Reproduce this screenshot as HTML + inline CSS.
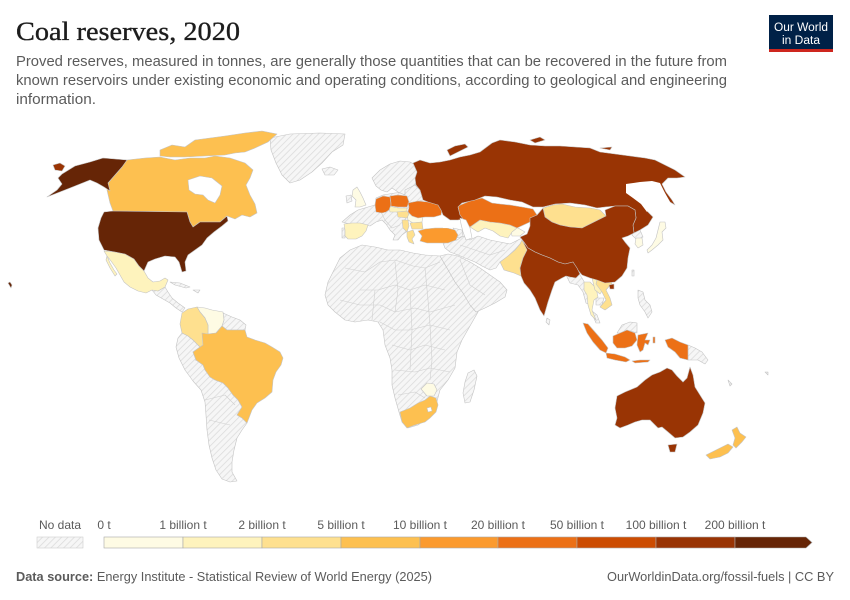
<!DOCTYPE html>
<html><head><meta charset="utf-8"><style>
html,body{margin:0;padding:0;background:#fff;}
svg{display:block;}
text{font-family:"Liberation Sans",sans-serif;}
</style></head><body>
<svg width="850" height="600" viewBox="0 0 850 600" xmlns="http://www.w3.org/2000/svg">
<defs>
<pattern id="h" width="4.5" height="4.5" patternUnits="userSpaceOnUse" patternTransform="rotate(45)">
<rect width="4.5" height="4.5" fill="#f6f6f6"/>
<line x1="0" y1="0" x2="0" y2="4.5" stroke="#dcdcdc" stroke-width="1.6"/>
</pattern>
</defs>
<rect width="850" height="600" fill="#fff"/>
<!-- Title -->
<text x="16" y="40" font-size="26" fill="#1d1d1d" stroke="#1d1d1d" stroke-width="0.35" textLength="224" lengthAdjust="spacingAndGlyphs" style="font-family:'Liberation Serif',serif">Coal reserves, 2020</text>
<g fill="#5b5b5b" font-size="14.5">
<text x="16" y="66" textLength="711" lengthAdjust="spacingAndGlyphs">Proved reserves, measured in tonnes, are generally those quantities that can be recovered in the future from</text>
<text x="16" y="85" textLength="711" lengthAdjust="spacingAndGlyphs">known reservoirs under existing economic and operating conditions, according to geological and engineering</text>
<text x="16" y="104" textLength="80" lengthAdjust="spacingAndGlyphs">information.</text>
</g>
<!-- Logo -->
<rect x="769" y="15" width="64" height="37" fill="#002147"/>
<rect x="769" y="49" width="64" height="3" fill="#ce261e"/>
<text x="801" y="31" fill="#fff" font-size="11.5" text-anchor="middle" textLength="54" lengthAdjust="spacingAndGlyphs">Our World</text>
<text x="801" y="44" fill="#fff" font-size="11.5" text-anchor="middle" textLength="38" lengthAdjust="spacingAndGlyphs">in Data</text>

<!-- MAP -->
<g stroke="#c4c4c4" stroke-width="0.6" stroke-linejoin="round">
<g fill="url(#h)">
<polygon points="270,138 290,134 320,133 345,134 343,145 332,152 322,163 312,172 300,180 290,183 282,175 276,163 271,150"/>
<polygon points="322,169 330,167 338,170 334,175 325,175"/>
<polygon points="152,290 158,291 165,287 168,292 172,298 178,303 185,308 182,312 176,308 170,303 163,299 156,295"/>
<polygon points="170,282 180,283 190,287 186,288 175,285"/>
<polygon points="193,290 200,290 198,293"/>
<polygon points="223,313 232,317 240,320 246,325 245,330 235,330 227,330 222,326 224,320"/>
<polygon points="182,333 188,336 193,340 200,347 193,352 196,360 203,365 205,370 210,377 215,380 223,383 228,388 233,395 238,400 242,407 237,415 242,418 247,423 242,430 237,438 234,450 232,462 232,472 237,481 230,482 222,479 216,470 212,458 209,445 207,430 206,415 205,402 201,390 193,381 185,370 179,358 176,347 178,338"/>
<polygon points="340,258 350,250 362,245 375,247 388,250 400,250 413,253 425,255 440,256 447,268 455,282 463,293 470,302 480,307 478,312 470,326 462,340 457,352 455,368 448,380 440,390 436,405 428,418 418,425 408,428 402,422 399,412 395,398 392,385 392,370 390,358 385,345 383,330 378,322 368,320 355,322 345,320 335,312 328,305 325,295 328,282 334,270"/>
<polygon points="468,373 474,370 477,376 474,390 470,402 465,403 463,393 465,382"/>
<polygon points="440,256 448,254 458,256 470,262 480,268 490,275 500,282 507,290 505,297 495,303 485,308 476,312 470,305 463,293 455,282 447,268"/>
<polygon points="443,243 457,240 463,236 470,240 478,236 490,240 500,242 510,244 518,240 522,238 527,237 520,247 510,255 500,262 496,268 490,270 482,266 475,262 465,258 458,255 450,252 445,248"/>
<polygon points="453,228 462,230 463,236 458,238"/>
<polygon points="342,222 350,215 358,210 368,207 375,205 376,198 383,195 395,193 405,192 413,192 416,198 415,203 410,205 406,210 408,215 405,220 407,226 406,232 402,235 398,240 393,240 395,235 390,230 386,224 382,220 376,222 370,226 360,224 350,224"/>
<polygon points="372,178 380,170 390,164 400,161 410,162 417,166 417,175 415,185 412,192 405,195 398,192 392,188 387,192 381,190 376,186"/>
<polygon points="405,190 415,185 420,190 423,200 416,202 408,205 405,198"/>
<polygon points="346,196 351,195 352,201 347,203"/>
<polygon points="342,228 345,228 345,238 342,238"/>
<polygon points="566,275 572,274 578,272 582,278 586,285 588,295 590,305 586,303 583,292 578,285 570,283"/>
<polygon points="548,257 558,260 565,263 560,265 550,261"/>
<polygon points="547,318 550,320 549,325 546,322"/>
<polygon points="596,298 604,298 602,305 596,305"/>
<polygon points="592,311 597,315 600,323 596,323 593,316"/>
<polygon points="633,225 640,230 643,237 637,240 632,235"/>
<polygon points="632,270 634,270 634,276 632,276"/>
<polygon points="638,290 643,292 645,300 650,305 652,312 648,318 645,312 640,305 638,298"/>
<polygon points="617,333 622,325 630,322 637,323 637,333 627,330 620,333"/>
<polygon points="688,345 695,348 702,352 708,360 705,364 698,360 688,360"/>
<polygon points="728,380 732,384 730,386"/>
<polygon points="765,372 768,372 768,375"/>
</g>
<g fill="none" stroke="#cfcfcf" stroke-width="0.6">
<polyline points="345,268 365,272 380,262 395,260 413,266 425,268 440,262"/>
<polyline points="360,290 378,290 395,285 410,290 425,285 445,290"/>
<polyline points="340,300 360,305 380,305 395,312 415,308 430,312 455,305"/>
<polyline points="380,322 395,330 410,330 430,325 450,330"/>
<polyline points="392,345 410,350 425,345 445,350"/>
<polyline points="395,370 415,372 430,368 450,372"/>
<polyline points="398,395 415,392 425,398"/>
<polyline points="395,262 398,290 395,312"/>
<polyline points="425,268 428,300 430,325 432,360 430,380"/>
<polyline points="410,290 412,330 410,370"/>
<polyline points="375,290 372,320"/>
<polyline points="460,260 470,285 485,295"/>
<polyline points="195,360 215,365 225,380"/>
<polyline points="205,400 225,395 235,405"/>
<polyline points="209,420 230,425"/>
<polyline points="460,245 475,250 490,255 505,250"/>
<polyline points="380,210 385,220 392,228 400,225"/>
</g>

<!-- c0 lightest -->
<g fill="#fefbe4">
<polygon points="197,307 205,308 212,310 223,312 224,320 222,326 216,333 208,334 208,325 205,318 200,312"/>
<polygon points="353,190 357,187 360,192 363,198 366,205 360,207 355,207 356,200 352,196"/>
<polygon points="407,214 418,213 423,216 422,222 413,223 408,220"/>
<polygon points="421,389 427,383 434,384 437,390 434,396 427,396"/>
<polygon points="636,238 642,238 643,245 638,248 635,244"/>
<polygon points="660,222 665,222 666,228 662,232 663,240 658,245 652,250 648,253 647,250 652,245 656,238 658,230"/>
<polygon points="510,226 518,228 525,232 520,236 512,236"/>
</g>
<!-- c1 -->
<g fill="#fef3bd">
<polygon points="104,251 115,252 125,254 134,259 139,266 144,271 148,278 153,282 160,281 165,278 168,280 165,287 158,291 152,290 146,293 138,291 130,287 124,282 120,275 116,268 111,261 107,256"/>
<polygon points="107,256 110,263 114,270 117,274 115,276 110,268 106,260"/>
<polygon points="344,224 352,223 360,223 368,225 366,231 362,236 356,239 348,239 345,236 345,230"/>
<polygon points="389,206 398,208 407,208 407,211 398,212 390,212"/>
<polygon points="470,227 480,220 490,222 500,223 510,225 517,228 512,232 508,238 500,236 493,231 485,228 478,232"/>
<polygon points="584,282 590,282 596,288 598,297 594,300 592,310 596,320 591,315 588,305 587,295 584,290"/>
<polygon points="592,278 600,278 604,288 600,294 595,290"/>
</g>
<!-- c2 -->
<g fill="#fee08f">
<polygon points="182,313 188,309 197,307 200,312 205,318 208,325 208,335 203,345 200,347 193,340 188,336 182,333 180,324"/>
<polygon points="397,212 407,211 409,214 407,218 398,217"/>
<polygon points="402,220 408,220 409,226 407,232 403,228"/>
<polygon points="410,223 422,222 423,229 412,229"/>
<polygon points="407,232 413,230 415,235 412,239 414,244 409,242 407,237"/>
<polygon points="543,208 553,205 562,204 575,207 590,208 600,210 606,216 598,220 590,224 582,228 570,227 560,225 552,222 545,217"/>
<polygon points="500,262 508,256 515,250 520,244 522,240 527,237 532,242 528,248 523,258 520,268 521,276 514,273 504,270"/>
<polygon points="598,276 606,276 612,283 606,290 610,298 612,305 605,310 600,307 606,300 602,292 596,284"/>
</g>
<!-- c3 -->
<g fill="#fdc050">
<polygon points="160,150 172,145 185,147 195,140 210,138 225,136 245,133 262,131 277,134 268,142 255,148 245,152 235,153 225,155 205,156 185,157 170,157 160,156"/>
<polygon points="127,160 145,158 160,157 175,160 190,158 205,158 215,156 230,158 245,163 253,170 250,178 246,185 250,195 255,204 257,213 250,217 242,215 235,219 227,216 220,222 210,222 200,222 193,227 190,222 187,212 113,211 110,203 107,190 108,183 115,175 122,167"/>
<polygon points="202,333 208,334 216,333 222,326 227,330 235,330 245,330 247,337 255,340 265,343 272,347 280,352 283,358 281,365 276,372 273,380 272,392 265,398 257,403 252,410 247,423 242,418 237,415 242,407 238,400 233,395 228,388 223,383 215,380 210,377 205,370 203,365 196,360 193,352 200,347 203,345"/>
<polygon points="400,412 410,408 418,403 425,400 430,396 436,398 438,405 436,412 430,418 425,422 415,425 407,428 402,422"/>
<polygon points="732,430 737,427 740,433 746,437 742,442 736,448 733,445 735,438"/>
<polygon points="706,455 712,452 720,448 728,444 733,447 728,453 720,457 710,459"/>
</g>
<polygon points="188,180 200,176 212,178 222,186 220,195 215,203 208,200 203,195 195,194 189,190" fill="#fff"/>
<polygon points="427,408 431,407 432,411 428,412" fill="#fff"/>
<!-- c4 -->
<g fill="#fb9a2e">
<polygon points="418,231 425,229 435,228 447,228 455,230 458,235 456,240 448,243 437,243 427,243 420,241 422,236"/>
</g>
<!-- c5 -->
<g fill="#ec7016">
<polygon points="376,199 383,196 390,197 391,205 389,210 386,212 382,213 376,212 375,205"/>
<polygon points="390,196 398,195 407,196 409,202 407,207 398,207 391,206 391,203"/>
<polygon points="408,203 418,201 428,202 438,204 442,210 441,215 434,217 425,217 418,218 412,216 408,212 409,207"/>
<polygon points="458,206 470,201 482,198 492,203 500,204 510,205 522,207 533,209 537,215 530,222 517,228 510,225 500,223 490,222 480,220 470,227 463,223 460,217"/>
<polygon points="583,323 588,324 595,332 602,340 608,348 606,353 600,350 593,342 587,333"/>
<polygon points="606,353 615,354 625,357 630,360 626,362 615,360 607,358"/>
<polygon points="613,336 620,333 627,330 635,333 637,340 632,346 625,348 617,348 613,343"/>
<polygon points="638,335 648,333 645,340 650,340 648,345 645,343 643,350 640,352 637,345"/>
<polygon points="632,361 640,360 650,360 648,362 635,363"/>
<polygon points="665,340 672,338 680,342 688,345 688,360 680,358 675,352 668,347"/>
<polygon points="653,337 655,337 655,343 653,343"/>
</g>
<!-- c7 -->
<g fill="#993404">
<polygon points="413,163 420,160 430,163 440,162 450,160 460,157 470,155 480,152 492,143 500,140 515,142 530,145 545,146 560,146 575,147 590,148 600,152 615,154 630,156 645,158 655,160 665,165 675,170 685,177 677,178 668,178 662,184 666,192 672,200 675,205 670,202 664,192 658,184 652,186 640,190 638,197 643,205 648,212 653,217 648,225 640,230 634,233 633,225 636,218 635,210 628,206 615,206 605,207 597,208 585,205 570,203 555,204 543,207 533,207 522,202 510,200 497,197 485,196 475,200 462,203 458,207 460,215 463,219 458,220 450,220 443,215 441,210 438,205 428,202 423,200 420,190 416,185 415,178 417,172"/>
<polygon points="447,150 455,146 465,144 468,147 458,152 450,156"/>
<polygon points="530,140 540,137 545,140 535,143"/>
<polygon points="600,148 612,147 610,150"/>
<polygon points="53,165 60,163 65,166 62,171 55,170"/>
<polygon points="530,218 537,215 543,208 545,217 552,222 560,225 570,227 582,228 590,224 598,220 606,216 605,210 615,206 628,206 635,210 636,218 633,225 634,233 628,236 622,238 625,242 630,248 628,258 627,268 622,276 615,282 605,283 597,280 590,278 582,275 576,268 573,262 565,264 558,262 550,258 542,255 535,252 528,248 524,242 520,237 527,234 530,226"/>
<polygon points="522,240 528,248 535,252 542,255 550,258 558,262 565,264 573,262 577,268 580,274 576,278 570,277 566,276 562,278 555,282 552,290 548,302 544,316 540,310 535,298 530,290 524,283 521,276 520,268 523,258 527,250"/>
<polygon points="609,285 614,284 614,289 610,289"/>
<polygon points="617,396 625,392 637,387 645,380 652,375 660,372 667,368 672,370 677,376 683,382 687,378 690,367 693,375 695,387 700,395 705,403 703,413 698,425 690,432 683,437 675,438 668,432 662,427 658,428 650,420 642,420 635,422 628,425 620,428 615,425 617,418 615,408"/>
<polygon points="668,445 677,444 675,452 670,452"/>
</g>
<polygon points="626,184 640,182 652,181 660,183 665,193 671,204 660,199 652,206 647,212 641,204 633,198 626,193" fill="#fff" stroke="none"/>
<polygon points="460,218 466,220 470,228 472,238 466,240 463,232 461,224" fill="#fff"/>
<polygon points="440,220 453,222 452,228 443,228" fill="#fff" stroke="none"/>
<!-- c8 -->
<g fill="#662506">
<polygon points="113,211 187,212 190,222 193,227 200,222 210,222 220,222 227,216 228,221 222,226 214,232 207,238 202,245 195,250 188,255 185,262 186,271 182,272 179,262 175,257 165,256 155,259 148,262 144,271 139,266 134,259 125,254 115,252 104,250 99,240 98,228 101,218 104,212"/>
<polygon points="62,174 75,166 90,162 103,158 127,160 122,167 115,175 108,183 110,191 104,187 97,183 90,180 80,184 70,188 47,197 57,190 62,184 58,178"/>
<polygon points="8,283 10,282 12,285 11,288"/>
</g>
</g>

<!-- Legend -->
<g font-size="12" fill="#5b5b5b" text-anchor="middle">
<text x="60" y="529">No data</text>
<text x="104" y="529">0 t</text>
<text x="183" y="529">1 billion t</text>
<text x="262" y="529">2 billion t</text>
<text x="341" y="529">5 billion t</text>
<text x="420" y="529">10 billion t</text>
<text x="498" y="529">20 billion t</text>
<text x="577" y="529">50 billion t</text>
<text x="656" y="529">100 billion t</text>
<text x="735" y="529">200 billion t</text>
</g>
<rect x="37" y="537" width="46" height="11" fill="url(#h)" stroke="#cfcfcf" stroke-width="0.6"/>
<g stroke="#a8a8a8" stroke-width="0.6">
<rect x="104" y="537" width="79" height="11" fill="#fefbe4"/>
<rect x="183" y="537" width="79" height="11" fill="#fef3bd"/>
<rect x="262" y="537" width="79" height="11" fill="#fee08f"/>
<rect x="341" y="537" width="79" height="11" fill="#fdc050"/>
<rect x="420" y="537" width="78" height="11" fill="#fb9a2e"/>
<rect x="498" y="537" width="79" height="11" fill="#ec7016"/>
<rect x="577" y="537" width="79" height="11" fill="#cc4c02"/>
<rect x="656" y="537" width="79" height="11" fill="#993404"/>
<polygon points="735,537 806,537 812,542.5 806,548 735,548" fill="#662506"/>
</g>

<!-- Footer -->
<text x="16" y="581" font-size="12.5" fill="#5b5b5b" textLength="416" lengthAdjust="spacingAndGlyphs"><tspan font-weight="bold">Data source:</tspan> Energy Institute - Statistical Review of World Energy (2025)</text>
<text x="834" y="581" font-size="12.5" fill="#5b5b5b" text-anchor="end" textLength="227" lengthAdjust="spacingAndGlyphs">OurWorldinData.org/fossil-fuels | CC BY</text>
</svg>
</body></html>
